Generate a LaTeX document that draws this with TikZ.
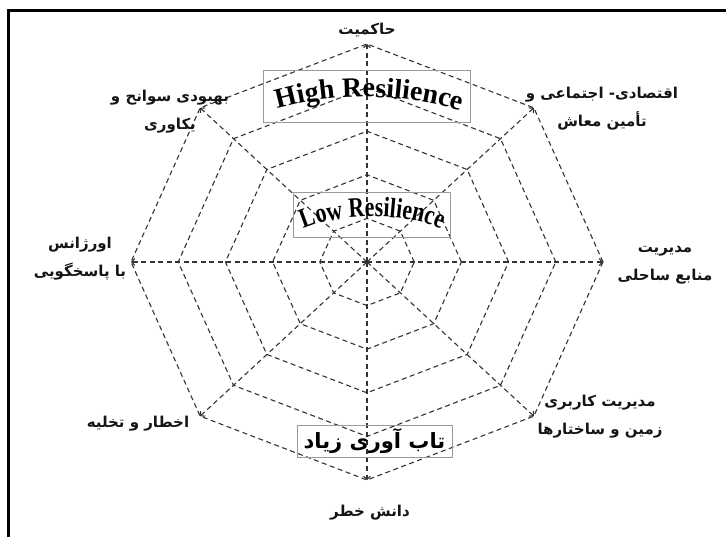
\documentclass[tikz,border=0pt]{standalone}
\usepackage{fontspec}
\usepackage{tikz}
\usetikzlibrary{arrows.meta, decorations.text}
\TeXXeTstate=1
\newfontfamily\fafont[Script=Arabic]{DejaVu Sans}
\newfontfamily\enfont{Liberation Serif}
\newfontfamily\ennarrow[FakeStretch=0.78]{Liberation Serif}
\definecolor{gridgray}{HTML}{333333}
\definecolor{boxgray}{HTML}{9a9a9a}
\definecolor{inkdark}{HTML}{151515}

\begin{document}
\begin{tikzpicture}[x=1pt,y=1pt,
  ring/.style={draw=gridgray,line width=1.1pt,dash pattern=on 5pt off 3.5pt},
  spoke/.style={ring,-{Straight Barb[length=3pt,width=7pt]}},
  lbl/.style={font=\fafont\bfseries\fontsize{15}{28}\selectfont,text=inkdark,align=center,inner sep=0pt},
  tag/.style={draw=boxgray,line width=0.7pt,inner sep=0pt},
  frame/.style={line width=3pt,draw=black}
]
\useasboundingbox (0,0) rectangle (726,536);
\draw[frame] (8,-10) -- (8,525) -- (740,525);
\begin{scope}[shift={(367pt,274pt)},x=236pt,y=218pt]
  \coordinate (o) at (0,0);
  \foreach \a [count=\i] in {90,45,0,-45,-90,-135,180,135}
    \coordinate (v\i) at (\a:1);
  \foreach \k in {1,...,5}
    \draw[ring] (0:\k/5) \foreach \a in {45,90,...,315} {-- (\a:\k/5)} -- cycle;
\end{scope}
\foreach \i in {1,...,8}
  \draw[spoke] (o) -- (v\i);
\node[lbl] (gov) at (367,506) {\beginR حاکمیت\endR};
\node[lbl] (econ) at (602,427.5) {\beginR اقتصادی- اجتماعی و\endR\\\beginR تأمین معاش\endR};
\node[lbl] (coast) at (665,271) {\beginR مدیریت\endR\\\beginR منابع ساحلی\endR};
\node[lbl] (landuse) at (600,119.5) {\beginR مدیریت کاربری\endR\\\beginR زمین و ساختارها\endR};
\node[lbl] (know) at (370,23) {\beginR دانش خطر\endR};
\node[lbl] (warn) at (138,112) {\beginR اخطار و تخلیه\endR};
\node[lbl] (emerg) at (80,277) {\beginR اورژانس\endR\\\beginR با پاسخگویی\endR};
\node[lbl] (recov) at (170,424) {\beginR بهبودی سوانح و\endR\\\beginR یکاوری\endR};
\node[tag,minimum width=207pt,minimum height=52pt] (high) at (366.5,440) {};
\path[decorate,decoration={text along path,text align=center,
  text={|\enfont\bfseries\fontsize{28}{28}\selectfont|High Resilience}}]
  (270,425) .. controls (330,444) and (405,444) .. (468,423);
\node[tag,minimum width=157pt,minimum height=45pt] (low) at (371.5,321.5) {};
\path[decorate,decoration={text along path,text align=center,
  text={|\ennarrow\bfseries\fontsize{28}{28}\selectfont|Low Resilience}}]
  (296,303) .. controls (335,325) and (410,325) .. (449,303);
\node[tag,minimum width=155pt,minimum height=32pt,
  font=\fafont\bfseries\fontsize{21}{26}\selectfont] (tab) at (374.5,95) {\beginR تاب آوری زیاد\endR};
\end{tikzpicture}
\end{document}
